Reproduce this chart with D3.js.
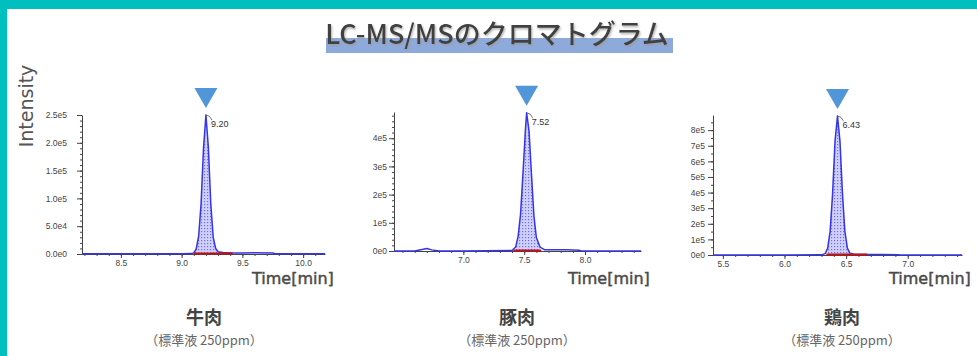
<!DOCTYPE html>
<html>
<head>
<meta charset="utf-8">
<script src="https://cdn.jsdelivr.net/npm/d3@7"></script>
<style>
  body { margin: 0; background: #fff; }
  svg { display: block; }
</style>
</head>
<body>
<svg width="977" height="356"></svg>
<script>
// chromatogram data (time in min, intensity in counts)
var times1 = [8.18, 8.50, 9.00, 9.08, 9.10, 9.12, 9.14, 9.16, 9.18, 9.20, 9.22, 9.24, 9.26, 9.28, 9.30, 9.34, 9.42, 9.50, 9.60, 9.75, 9.77, 10.18];
var intensity1 = [500, 400, 500, 700, 2000, 9000, 32000, 90000, 190000, 250000, 192000, 90000, 30000, 10000, 4000, 2500, 2000, 2000, 2300, 1800, 500, 500];

var times2 = [6.43, 6.60, 6.67, 6.70, 6.74, 6.80, 7.00, 7.40, 7.43, 7.45, 7.47, 7.49, 7.51, 7.52, 7.54, 7.56, 7.58, 7.60, 7.63, 7.67, 7.75, 7.85, 7.95, 7.97, 8.46];
var intensity2 = [0, 0, 6000, 9000, 4000, 0, 0, 1500, 14000, 52000, 130000, 275000, 430000, 490000, 425000, 270000, 125000, 48000, 14000, 4000, 4000, 4000, 3000, 0, 0];

var times3 = [5.42, 6.00, 6.30, 6.33, 6.35, 6.37, 6.39, 6.41, 6.43, 6.45, 6.47, 6.49, 6.51, 6.53, 6.57, 6.66, 6.80, 6.92, 6.94, 7.44];
var intensity3 = [0, 0, 1000, 9000, 42000, 150000, 390000, 730000, 890000, 730000, 395000, 150000, 45000, 12000, 4000, 2500, 2500, 2000, 0, 0];

var peakTimes = [9.20, 7.52, 6.43];
var peakLabels = ["9.20", "7.52", "6.43"];
var baselineStart = [9.10, 7.41, 6.34];
var baselineEnd = [9.42, 7.64, 6.67];

var xTicks1 = [8.5, 9.0, 9.5, 10.0];
var xTickLabels1 = ["8.5", "9.0", "9.5", "10.0"];
var xTicks2 = [7.0, 7.5, 8.0];
var xTickLabels2 = ["7.0", "7.5", "8.0"];
var xTicks3 = [5.5, 6.0, 6.5, 7.0];
var xTickLabels3 = ["5.5", "6.0", "6.5", "7.0"];

var yTicks1 = [0, 50000, 100000, 150000, 200000, 250000];
var yTickLabels1 = ["0.0e0", "5.0e4", "1.0e5", "1.5e5", "2.0e5", "2.5e5"];
var yTicks2 = [0, 100000, 200000, 300000, 400000];
var yTickLabels2 = ["0e0", "1e5", "2e5", "3e5", "4e5"];
var yTicks3 = [0, 100000, 200000, 300000, 400000, 500000, 600000, 700000, 800000];
var yTickLabels3 = ["0e0", "1e5", "2e5", "3e5", "4e5", "5e5", "6e5", "7e5", "8e5"];

var sampleNames = ["牛肉", "豚肉", "鶏肉"];
var sampleNote = "（標準液 250ppm）";
var chartTitle = "LC-MS/MSのクロマトグラム";

// layout of each panel (pixels) and axis ranges
var panels = [
  { x0: 82, x1: 325, y0: 254, y1: 115, tDomain: [8.18, 10.18], iMax: 250000, yMinor: 10000, pad: 10, center: 204,
    times: times1, intensity: intensity1, xTicks: xTicks1, xLabels: xTickLabels1, yTicks: yTicks1, yLabels: yTickLabels1 },
  { x0: 394, x1: 641, y0: 251, y1: 112, tDomain: [6.43, 8.46], iMax: 493000, yMinor: 20000, pad: 2, center: 517,
    times: times2, intensity: intensity2, xTicks: xTicks2, xLabels: xTickLabels2, yTicks: yTicks2, yLabels: yTickLabels2 },
  { x0: 713, x1: 962, y0: 255, y1: 115, tDomain: [5.42, 7.44], iMax: 897000, yMinor: 50000, pad: 3, center: 842,
    times: times3, intensity: intensity3, xTicks: xTicks3, xLabels: xTickLabels3, yTicks: yTicks3, yLabels: yTickLabels3 }
];

var svg = d3.select("svg");

// background + teal frame
svg.append("rect").attr("width", 977).attr("height", 356).attr("fill", "#fff");
svg.append("rect").attr("x", 0).attr("y", 0).attr("width", 977).attr("height", 9).attr("fill", "#00c0bf");
svg.append("rect").attr("x", 0).attr("y", 0).attr("width", 7).attr("height", 356).attr("fill", "#00c0bf");

var defs = svg.append("defs");
// dotted hatch for the peak area
var pat = defs.append("pattern").attr("id", "hatch")
  .attr("patternUnits", "userSpaceOnUse").attr("width", 3).attr("height", 3);
pat.append("rect").attr("width", 3).attr("height", 3).attr("fill", "#d0d0ff");
pat.append("rect").attr("width", 1.2).attr("height", 1.2).attr("fill", "#7070f0");
// soft shadow for the title
var shadow = defs.append("filter").attr("id", "shadow").attr("x", "-10%").attr("y", "-30%").attr("width", "120%").attr("height", "160%");
shadow.append("feDropShadow").attr("dx", 1).attr("dy", 1.5).attr("stdDeviation", 0.8)
  .attr("flood-color", "#999").attr("flood-opacity", 0.8);

// title with the blue marker bar
svg.append("rect").attr("x", 326).attr("y", 38).attr("width", 347).attr("height", 15).attr("fill", "#8eaadb");
svg.append("text")
  .attr("x", 497).attr("y", 44)
  .attr("text-anchor", "middle")
  .attr("font-family", "'Noto Sans CJK JP', 'Noto Sans', sans-serif")
  .attr("font-size", 27).attr("font-weight", 500)
  .attr("fill", "#404040")
  .attr("filter", "url(#shadow)")
  .text(chartTitle);

// y axis title
svg.append("text")
  .attr("transform", "translate(33,106) rotate(-90)")
  .attr("text-anchor", "middle")
  .attr("font-family", "'DejaVu Sans', sans-serif")
  .attr("font-size", 19)
  .attr("fill", "#555")
  .text("Intensity");

panels.forEach(function(p, k) {
  var g = svg.append("g");
  var x = d3.scaleLinear().domain(p.tDomain).range([p.x0, p.x1]);
  var y = d3.scaleLinear().domain([0, p.iMax]).range([p.y0, p.y1]);

  // minor ticks
  var xMinor = d3.range(Math.ceil(p.tDomain[0] * 10), Math.floor(p.tDomain[1] * 10) + 1).map(function(v) { return v / 10; });
  g.append("g").attr("transform", "translate(0," + p.y0 + ")")
    .call(d3.axisBottom(x).tickValues(xMinor).tickSize(2).tickFormat(""))
    .call(function(a) { a.select(".domain").remove(); a.selectAll("line").attr("stroke", "#444"); });
  var yMinor = d3.range(0, p.iMax, p.yMinor);
  g.append("g").attr("transform", "translate(" + p.x0 + ",0)")
    .call(d3.axisLeft(y).tickValues(yMinor).tickSize(2).tickFormat(""))
    .call(function(a) { a.select(".domain").remove(); a.selectAll("line").attr("stroke", "#444"); });

  // major axes
  var xAxis = g.append("g").attr("transform", "translate(0," + p.y0 + ")")
    .call(d3.axisBottom(x).tickValues(p.xTicks).tickSize(4).tickPadding(2).tickSizeOuter(0)
      .tickFormat(function(d, i) { return p.xLabels[i]; }));
  var yAxis = g.append("g").attr("transform", "translate(" + p.x0 + ",0)")
    .call(d3.axisLeft(y).tickValues(p.yTicks).tickSize(5).tickPadding(p.pad).tickSizeOuter(0)
      .tickFormat(function(d, i) { return p.yLabels[i]; }));
  [xAxis, yAxis].forEach(function(a) {
    a.select(".domain").attr("stroke", "#444");
    a.selectAll("line").attr("stroke", "#444");
    a.selectAll("text").attr("font-family", "'Liberation Sans', Arial, sans-serif")
      .attr("font-size", 8.5).attr("fill", "#444");
  });

  var pts = p.times.map(function(t, i) { return [t, p.intensity[i]]; });

  // peak area (integrated region)
  var inPeak = pts.filter(function(d) { return d[0] >= baselineStart[k] && d[0] <= baselineEnd[k]; });
  var area = d3.area().x(function(d) { return x(d[0]); }).y0(y(0)).y1(function(d) { return y(d[1]); });
  g.append("path").datum(inPeak).attr("d", area).attr("fill", "url(#hatch)");

  // chromatogram trace
  var line = d3.line().x(function(d) { return x(d[0]); }).y(function(d) { return y(d[1]); });
  g.append("path").datum(pts).attr("d", line)
    .attr("fill", "none").attr("stroke", "#3434e8").attr("stroke-width", 1.5).attr("stroke-linejoin", "round");

  // red integration baseline
  g.append("line")
    .attr("x1", x(baselineStart[k])).attr("x2", x(baselineEnd[k]))
    .attr("y1", y(0) - 0.5).attr("y2", y(0) - 0.5)
    .attr("stroke", "#c81010").attr("stroke-width", 2);

  // peak marker + retention time label
  var px = x(peakTimes[k]);
  var ptop = y(d3.max(p.intensity));
  g.append("path")
    .attr("d", "M" + (px - 11.5) + "," + (ptop - 27) + " L" + (px + 11.5) + "," + (ptop - 27) + " L" + px + "," + (ptop - 7) + " Z")
    .attr("fill", "#5096d8");
  g.append("path")
    .attr("d", "M" + px + "," + ptop + " q4,0 6,5")
    .attr("fill", "none").attr("stroke", "#555").attr("stroke-width", 0.8);
  g.append("text")
    .attr("x", px + 5).attr("y", ptop + 12)
    .attr("font-family", "'Liberation Sans', Arial, sans-serif")
    .attr("font-size", 9).attr("fill", "#333")
    .text(peakLabels[k]);

  // x axis title
  g.append("text")
    .attr("x", p.x1 - 73).attr("y", 284)
    .attr("font-family", "'DejaVu Sans', sans-serif")
    .attr("font-size", 16).attr("fill", "#4a4a4a")
    .attr("stroke", "#4a4a4a").attr("stroke-width", 0.45)
    .text("Time[min]");

  // sample name under each chart
  g.append("text")
    .attr("x", p.center).attr("y", 324)
    .attr("text-anchor", "middle")
    .attr("font-family", "'Noto Sans CJK JP', sans-serif")
    .attr("font-size", 18).attr("font-weight", "bold").attr("fill", "#444")
    .text(sampleNames[k]);
  g.append("text")
    .attr("x", p.center).attr("y", 345)
    .attr("text-anchor", "middle")
    .attr("font-family", "'Noto Sans CJK JP', sans-serif")
    .attr("font-size", 13).attr("fill", "#666")
    .text(sampleNote);
});
</script>
</body>
</html>
